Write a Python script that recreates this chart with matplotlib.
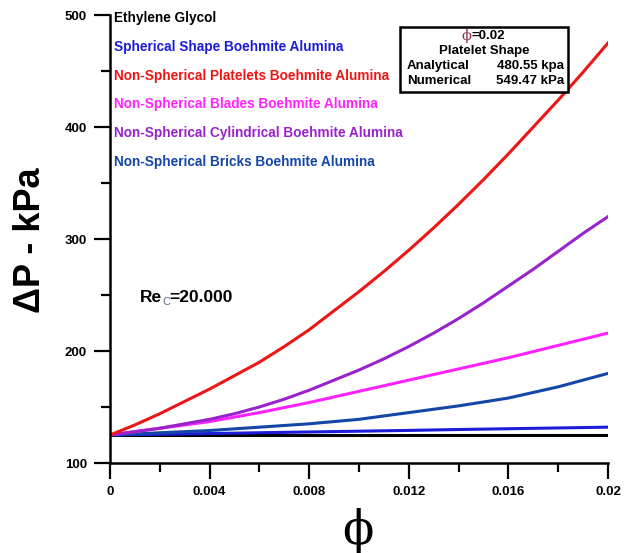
import matplotlib.pyplot as plt
from matplotlib.ticker import MultipleLocator
from matplotlib.patches import Rectangle

# ---- data ----
phi_fine = [0, 0.001, 0.002, 0.003, 0.004, 0.005, 0.006, 0.007, 0.008, 0.009, 0.010,
            0.011, 0.012, 0.013, 0.014, 0.015, 0.016, 0.017, 0.018, 0.019, 0.020]
platelets = [125, 134, 144, 155, 166, 178, 190, 204, 219, 236, 253,
             271, 290, 310, 331, 353, 376, 400, 424, 449, 475]
cylinder  = [125, 128, 131, 135, 139, 144, 150, 157, 165, 174, 183,
             193, 204, 216, 229, 243, 258, 273, 289, 305, 320]

phi = [0, 0.002, 0.004, 0.006, 0.008, 0.010, 0.012, 0.014, 0.016, 0.018, 0.020]
eg        = [125, 125, 125, 125, 125, 125, 125, 125, 125, 125, 125]
spherical = [125, 125.7, 126.3, 127, 127.7, 128.4, 129.1, 129.9, 130.6, 131.3, 132]
blades    = [125, 131, 137, 145, 154, 164, 174, 184, 194, 205, 216]
bricks    = [125, 127, 129, 132, 135, 139, 145, 151, 158, 168, 180]

names = ['Ethylene Glycol',
         'Spherical Shape Boehmite Alumina',
         'Non-Spherical Platelets Boehmite Alumina',
         'Non-Spherical Blades Boehmite Alumina',
         'Non-Spherical Cylindrical Boehmite Alumina',
         'Non-Spherical Bricks Boehmite Alumina']
colors = ['black', '#1c1cd8', '#ee1515', '#ff22ff', '#9a22cc', '#1446a8']

W, H = 629, 553
def px(x, y):
    # pixel position (from top-left) -> figure fraction
    return x / W, 1 - y / H

plt.rcParams['font.family'] = ['Liberation Sans', 'DejaVu Sans']

fig = plt.figure(figsize=(W / 100, H / 100), dpi=100)
ax = fig.add_axes([110 / W, 1 - 463 / H, 498 / W, 448 / H])

lw = 2.2
ax.plot(phi, eg, color=colors[0], linewidth=lw)
ax.plot(phi, spherical, color=colors[1], linewidth=lw)
ax.plot(phi, bricks, color=colors[5], linewidth=lw)
ax.plot(phi, blades, color=colors[3], linewidth=lw)
ax.plot(phi_fine, cylinder, color=colors[4], linewidth=lw)
ax.plot(phi_fine, platelets, color=colors[2], linewidth=lw)

ax.set_xlim(0, 0.02)
ax.set_ylim(100, 500)
ax.set_xticks([0, 0.004, 0.008, 0.012, 0.016, 0.02])
ax.set_xticklabels(['0', '0.004', '0.008', '0.012', '0.016', '0.02'])
ax.xaxis.set_minor_locator(MultipleLocator(0.002))
ax.yaxis.set_major_locator(MultipleLocator(100))
ax.yaxis.set_minor_locator(MultipleLocator(50))
ax.tick_params(which='major', direction='out', length=11.5, width=1.6, labelsize=9.5, pad=5)
ax.tick_params(which='minor', direction='out', length=6.5, width=1.6)
for lab in ax.get_xticklabels() + ax.get_yticklabels():
    lab.set_fontweight('bold')
ax.spines['top'].set_visible(False); ax.spines['right'].set_visible(False)
ax.spines['left'].set_linewidth(1.8); ax.spines['bottom'].set_linewidth(1.8)

# axis titles
fig.text(*px(31, 240), 'ΔP - kPa', fontsize=26, fontweight='bold', rotation=90, ha='center', va='center')
fig.text(*px(358, 531), 'ϕ', fontsize=33, family='DejaVu Serif', ha='center', va='center')

# legend-like text list
for k, (n, c) in enumerate(zip(names, colors)):
    fig.text(*px(114, 18 + k * 28.8), n, color=c, fontsize=9.8, fontweight='bold', va='center', ha='left')

# info box
fig.patches.append(Rectangle(px(400, 92), 168 / W, 65 / H, transform=fig.transFigure,
                             fc='white', ec='black', lw=1.8))
fig.text(*px(472, 36), 'ϕ', color='#883355', fontsize=10.5, family='DejaVu Serif', va='center', ha='right')
fig.text(*px(472, 36), '=0.02', fontsize=9.5, fontweight='bold', va='center', ha='left')
fig.text(*px(484, 51), 'Platelet Shape', fontsize=9.5, fontweight='bold', va='center', ha='center')
fig.text(*px(407, 66), 'Analytical', fontsize=9.5, fontweight='bold', va='center', ha='left')
fig.text(*px(564, 66), '480.55 kpa', fontsize=9.5, fontweight='bold', va='center', ha='right')
fig.text(*px(407, 81), 'Numerical', fontsize=9.5, fontweight='bold', va='center', ha='left')
fig.text(*px(564, 81), '549.47 kPa', fontsize=9.5, fontweight='bold', va='center', ha='right')

# Reynolds number note
fig.text(*px(140, 297), 'Re', fontsize=12.5, fontweight='bold', va='center', ha='left')
fig.text(*px(162, 302), 'C', fontsize=8, color='#5a6a8a', va='center', ha='left')
fig.text(*px(169, 297), '=20.000', fontsize=12.5, fontweight='bold', va='center', ha='left')

fig.savefig('out.png', dpi=100)
